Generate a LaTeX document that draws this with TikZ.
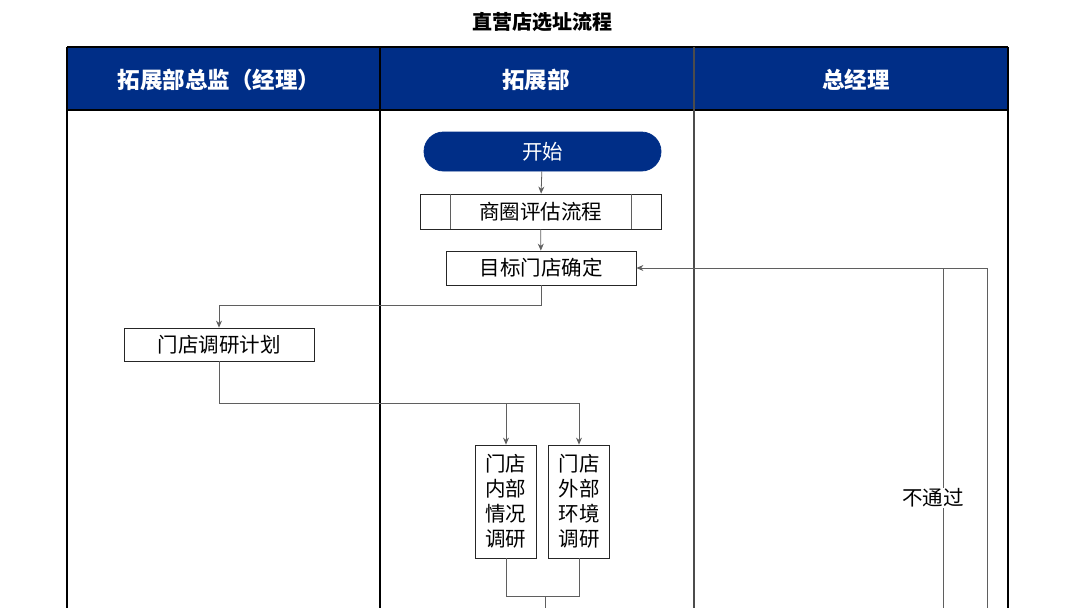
\documentclass[tikz,border=0pt]{standalone}
\usepackage{fontspec}
\setmainfont{Noto Sans CJK SC}
\usetikzlibrary{arrows.meta, positioning, calc}
\definecolor{headblue}{RGB}{0,46,135}
\definecolor{linegray}{RGB}{95,95,95}

\begin{document}
\begin{tikzpicture}[>={Stealth[length=7pt,width=6pt]}, x=1pt, y=-1pt,
    box/.style={draw=black!85, line width=0.8pt, inner sep=0pt, minimum height=34pt, font=\fontsize{20.5}{25}\selectfont},
    tallbox/.style={box, minimum width=61pt, minimum height=113pt, align=center},
    head/.style={text=white, font=\fontsize{22.5}{26}\selectfont\bfseries},
    flow/.style={linegray, line width=0.8pt},
    lane/.style={black, line width=1.1pt}]
    \useasboundingbox (0,0) rectangle (1080,608);
    %\draw[step=100, gray!30, very thin] (0,0) grid (1080,608);

    \node[font=\fontsize{20}{24}\selectfont\bfseries] (title) at (542, 22) {直营店选址流程};

    % lanes
    \fill[headblue] (67, 47) rectangle (1008, 110);
    \draw[lane] (67, 47) -- (1008, 47);
    \draw[lane] (67, 110) -- (1008, 110);
    \draw[lane] (67, 47) -- (67, 608);
    \draw[lane] (380, 47) -- (380, 608);
    \draw[lane, black!70] (694, 47) -- (694, 608);
    \draw[lane] (1008, 47) -- (1008, 608);

    \node[head] (lane1) at (219, 80) {拓展部总监（经理）};
    \node[head] (lane2) at (536, 80) {拓展部};
    \node[head] (lane3) at (856, 80) {总经理};

    % steps
    \node[box, fill=headblue, draw=headblue, text=white, rounded corners=19.5pt, minimum width=237pt, minimum height=39pt] (start) at (542.5, 151.5) {开始};
    \node[box, minimum width=241pt, minimum height=35pt] (eval) at (540.5, 211.5) {商圈评估流程};
    \draw[flow] ([xshift=31pt]eval.north west) -- ([xshift=31pt]eval.south west);
    \draw[flow] ([xshift=-30pt]eval.north east) -- ([xshift=-30pt]eval.south east);
    \node[box, minimum width=190pt] (target) at (541, 268) {目标门店确定};
    \node[box, minimum width=190pt, minimum height=33pt] (plan) at (219, 344.5) {门店调研计划};
    \node[tallbox] (inner) at (505.5, 501.5) {门店\\内部\\情况\\调研};
    \node[tallbox] (outer) at (579, 501.5) {门店\\外部\\环境\\调研};

    \coordinate (fork) at (506, 403);
    \coordinate (join) at (545, 596);
    \coordinate (down) at (545, 608);
    \coordinate (failA) at (943, 608);
    \coordinate (failB) at (987, 608);

    \draw[flow, ->] (start) -- (eval);
    \draw[flow, ->] (eval) -- (target);
    \draw[flow, ->] (target.south) -- ++(0, 20) -| (plan.north);

    \draw[flow] (plan.south) |- (fork);
    \draw[flow, ->] (fork) -- (fork |- inner.north);
    \draw[flow, ->] (fork) -| (outer.north);

    \draw[flow] (inner.south -| fork) |- (join);
    \draw[flow] (outer.south) |- (join);
    \draw[flow] (join) -- (down);

    \draw[flow, ->] (failB) |- (target.east);
    \draw[flow] (failA) -- (failA |- target.east);
    \node[fill=white, inner sep=1pt, font=\fontsize{20.5}{24}\selectfont] (fail) at (933, 498) {不通过};

  \end{tikzpicture}
\end{document}
